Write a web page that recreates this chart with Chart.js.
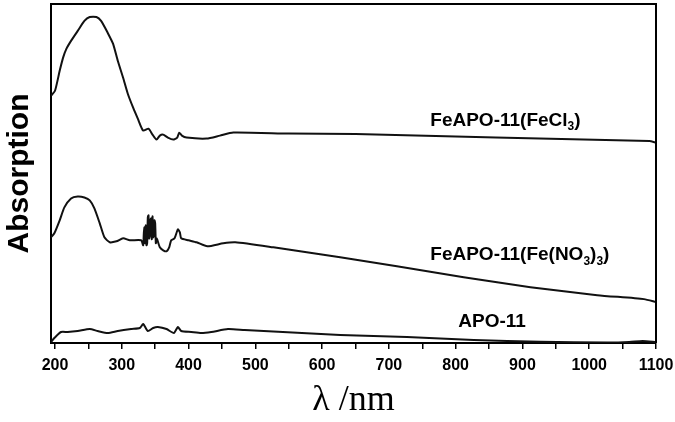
<!DOCTYPE html>
<html>
<head>
<meta charset="utf-8">
<script src="https://cdn.jsdelivr.net/npm/chart.js@4.4.1/dist/chart.umd.min.js"></script>
<style>
  html, body { margin: 0; padding: 0; background: #fff; }
  #wrap { width: 675px; height: 422px; }
</style>
</head>
<body>
<div id="wrap"><canvas id="c" width="675" height="422"></canvas></div>
<script>
// UV-vis diffuse reflectance spectra (arbitrary absorption units)
const feclWl  = [194, 200, 207, 212, 217, 224, 234, 244, 252, 262, 269, 279, 287, 294, 302, 309, 317, 324, 332, 340, 346, 352, 357, 362, 369, 377, 383, 386, 390, 397, 427, 447, 467, 550, 650, 860, 1090, 1100];
const feclAbs = [248, 253, 273, 286, 295, 303, 313, 323, 327, 327, 323, 311, 300, 283, 266, 250, 236, 225, 213, 215, 209, 204, 208, 209, 206, 204, 206, 211, 208, 206, 205, 208, 211, 210, 209.5, 206, 202.5, 201];

const nitrWl  = [194, 199, 207, 214, 224, 234, 244, 252, 259, 267, 274, 282, 292, 302, 312, 329, 332, 333, 334, 335, 336, 337, 338, 339, 340, 341, 342, 343, 344, 345, 346, 347, 348, 349, 350, 351, 352, 353, 357, 362, 367, 371, 374, 379, 384, 387, 389, 400, 412, 428, 452, 470, 527, 577, 627, 712, 812, 912, 1012, 1082, 1100];
const nitrAbs = [106, 110, 123, 136, 145, 147, 146, 143, 135, 120, 106, 101, 102, 105, 103, 103, 98, 110, 116, 100, 118, 98, 100, 126, 128, 105, 108, 124, 125, 104, 127, 106, 108, 123, 120, 100, 105, 104, 96, 93, 92, 96, 103, 105, 114, 111, 105, 103, 101, 97, 100, 101, 96, 91, 86, 77, 66, 56, 48, 44, 41];

const apoWl  = [194, 199, 209, 219, 234, 252, 264, 279, 294, 314, 327, 332, 339, 347, 354, 367, 378, 384, 389, 404, 419, 434, 459, 484, 627, 727, 827, 927, 1027, 1060, 1080, 1100];
const apoAbs = [1, 5, 11, 11, 12, 14, 12, 10, 12, 14, 15, 19, 12, 15, 16, 14, 10, 16, 12, 11, 10, 11, 14, 13, 8, 6, 3, 1.3, 0.5, 1, 2, 1];

const xTickValues = [200, 300, 400, 500, 600, 700, 800, 900, 1000, 1100];

const toPoints = (xs, ys) => xs.map((x, i) => ({ x: x, y: ys[i] }));

// Curve captions: [text parts, wavelength, absorption]; parts marked sub are subscripts
const captions = [
  { parts: [['FeAPO-11(FeCl'], ['3', 'sub'], [')']], x: 762, y: 223 },
  { parts: [['FeAPO-11(Fe(NO'], ['3', 'sub'], [')'], ['3', 'sub'], [')']], x: 762, y: 88 },
  { parts: [['APO-11']], x: 804, y: 21 }
];

const frame = {
  id: 'frame',
  afterDraw(chart) {
    const { ctx, chartArea: a } = chart;
    ctx.save();
    ctx.strokeStyle = '#000';
    ctx.lineWidth = 2;
    ctx.beginPath();
    ctx.moveTo(a.left, a.top);
    ctx.lineTo(a.right, a.top);
    ctx.lineTo(a.right, a.bottom);
    ctx.stroke();
    ctx.restore();
  }
};

const captionPlugin = {
  id: 'captions',
  afterDatasetsDraw(chart) {
    const { ctx, scales } = chart;
    ctx.save();
    ctx.fillStyle = '#000';
    ctx.textBaseline = 'middle';
    ctx.textAlign = 'left';
    captions.forEach(c => {
      let px = scales.x.getPixelForValue(c.x);
      const py = scales.y.getPixelForValue(c.y);
      c.parts.forEach(([t, kind]) => {
        if (kind === 'sub') {
          ctx.font = 'bold 12px "Liberation Sans", Arial, sans-serif';
          ctx.fillText(t, px, py + 6);
        } else {
          ctx.font = 'bold 19px "Liberation Sans", Arial, sans-serif';
          ctx.fillText(t, px, py);
        }
        px += ctx.measureText(t).width;
      });
    });
    ctx.restore();
  }
};

const lineStyle = {
  borderColor: '#111',
  borderWidth: 2,
  pointRadius: 0,
  fill: false,
  tension: 0.2
};

new Chart(document.getElementById('c'), {
  type: 'line',
  data: {
    datasets: [
      Object.assign({ label: 'FeAPO-11(FeCl3)', data: toPoints(feclWl, feclAbs) }, lineStyle),
      Object.assign({ label: 'FeAPO-11(Fe(NO3)3)', data: toPoints(nitrWl, nitrAbs) }, lineStyle),
      Object.assign({ label: 'APO-11', data: toPoints(apoWl, apoAbs) }, lineStyle)
    ]
  },
  options: {
    responsive: false,
    animation: false,
    devicePixelRatio: 1,
    layout: { padding: { top: 4, right: 19, left: 0, bottom: 0 } },
    plugins: { legend: { display: false }, tooltip: { enabled: false } },
    scales: {
      x: {
        type: 'linear',
        min: 194,
        max: 1100,
        afterFit(s) {
          s.height = 79;
          s.paddingLeft = 0;
          s.paddingRight = 0;
        },
        afterBuildTicks(s) {
          const t = [];
          for (let v = 200; v <= 1100; v += 50) t.push({ value: v });
          s.ticks = t;
        },
        ticks: {
          autoSkip: false,
          maxRotation: 0,
          padding: 7,
          color: '#000',
          font: { family: '"Liberation Sans", Arial, sans-serif', size: 16, weight: 'bold' },
          callback: v => (xTickValues.includes(v) ? String(v) : '')
        },
        grid: { drawOnChartArea: false, drawTicks: true, tickLength: 6, color: '#000', lineWidth: 1.5 },
        border: { color: '#000', width: 2 },
        title: {
          display: true,
          text: 'λ /nm',
          color: '#000',
          font: { family: '"Liberation Serif", "Times New Roman", serif', size: 36 },
          padding: { top: 0, bottom: 0 }
        }
      },
      y: {
        type: 'linear',
        min: 0,
        max: 340,
        afterFit(s) { s.width = 51; },
        ticks: { display: false },
        grid: { display: false },
        border: { color: '#000', width: 2 },
        title: {
          display: true,
          text: 'Absorption',
          color: '#000',
          font: { family: '"Liberation Sans", Arial, sans-serif', size: 30, weight: 'bold' },
          padding: { top: 2, bottom: 2 }
        }
      }
    }
  },
  plugins: [frame, captionPlugin]
});
</script>
</body>
</html>
